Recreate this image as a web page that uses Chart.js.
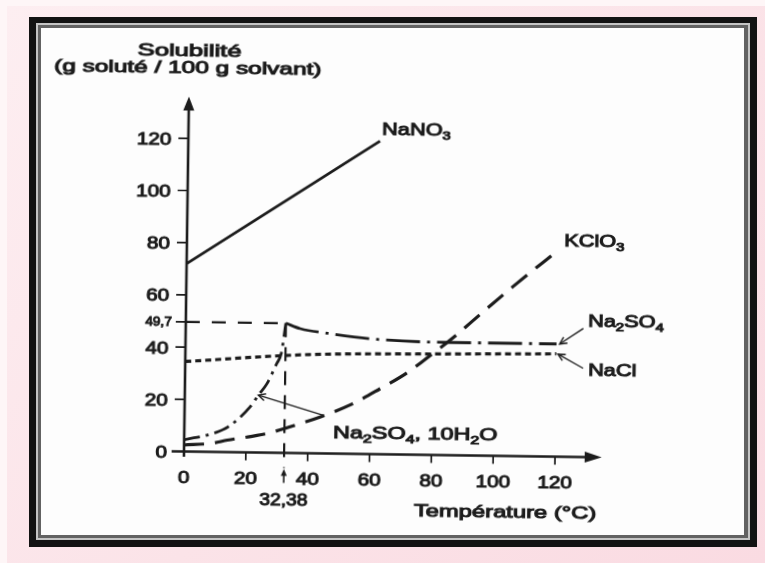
<!DOCTYPE html>
<html>
<head>
<meta charset="utf-8">
<script src="https://cdn.jsdelivr.net/npm/chart.js@4"></script>
<style>
  html, body { margin: 0; padding: 0; }
  body {
    width: 765px; height: 563px; position: relative; overflow: hidden;
    background: #fef6f7;
  }
  .pink { position: absolute; left: 7px; top: 6px; right: 0; bottom: 0;
    background: linear-gradient(135deg, #fdeef1 0%, #fbe3e8 55%, #fadbe2 100%); }
  .f1 { position: absolute; left: 29px; top: 17px; width: 728px; height: 530px; background: #121212; }
  .f2 { position: absolute; left: 36px; top: 23px; width: 714px; height: 517px; background: #c4c4c4; }
  .f3 { position: absolute; left: 38px; top: 25px; width: 710px; height: 513px; background: #626262; }
  .paper { position: absolute; left: 41px; top: 28px; width: 703px; height: 507px; background: #fdfdfd; }
  #chart { position: absolute; left: 0; top: 0; transform-origin: 184px 451.5px; transform: rotate(0.8deg); }
</style>
</head>
<body>
<div class="pink"></div>
<div class="f1"></div><div class="f2"></div><div class="f3"></div><div class="paper"></div>
<canvas id="chart" width="765" height="563"></canvas>
<script>
// ticks
const tempTicks = [0, 20, 40, 60, 80, 100, 120];
const solTicks = [0, 20, 40, 49.7, 60, 80, 100, 120];
const solTickLabels = ['0', '20', '40', '49,7', '60', '80', '100', '120'];

// solubility curves (temperature in °C, g solute / 100 g solvent)
const nano3Temp = [0, 62];
const nano3Sol = [72, 120];
const kclo3Temp = [0, 9, 14, 21, 27, 34, 44, 54, 63, 72, 78, 86.5, 96, 105.7, 120];
const kclo3Sol = [2.5, 3.3, 4.6, 6, 7.4, 10, 14, 19, 25, 31.5, 37, 45, 55, 65, 79];
const naclTemp = [0, 40, 80, 120];
const naclSol = [34.5, 37.8, 38.7, 39.4];
const na2so4Temp = [32.38, 37, 47, 62, 85, 120];
const na2so4Sol = [49.7, 47.7, 45.9, 44, 43.2, 43.2];
const decaTemp = [0, 9.4, 14.2, 21.2, 23.8, 26.5, 29.6, 31, 32.38];
const decaSol = [4.5, 7.1, 9.7, 17.5, 22, 26.4, 34.2, 38, 49.7];

// transition point Na2SO4,10H2O -> Na2SO4
const transTemp = 32.38;
const transSol = 49.7;

// label leader lines [temp, sol], first point touches the curve
const leaderNa2so4 = [[121, 43.2], [128.6, 49.3]];
const leaderNacl = [[120.5, 39.3], [128.7, 34]];
const leaderDeca = [[23.8, 22], [44.9, 14.6]];

const ink = '#1c1c1c';
const fontFam = '"Liberation Sans", Arial, sans-serif';

function pts(t, s) { return t.map((v, i) => ({ x: v, y: s[i] })); }
function pairPts(arr) { return arr.map(p => ({ x: p[0], y: p[1] })); }

function curve(data, dash, width, smooth) {
  return {
    data: data, borderColor: ink, borderWidth: width, borderDash: dash,
    pointRadius: 0, fill: false, clip: false,
    cubicInterpolationMode: smooth ? 'monotone' : 'default', tension: 0
  };
}

// text drawn with a horizontal stretch like the scanned figure
function sText(ctx, str, x, y, sx, align) {
  const w = ctx.measureText(str).width * sx;
  let x0 = x;
  if (align === 'center') x0 = x - w / 2;
  else if (align === 'right') x0 = x - w;
  ctx.save();
  ctx.translate(x0, y);
  ctx.scale(sx, 1);
  ctx.textAlign = 'left';
  ctx.fillText(str, 0, 0);
  ctx.strokeText(str, 0, 0);
  ctx.restore();
  return w;
}

// chemical formula: "_3" means subscript 3
function chem(ctx, str, x, y, size, sx) {
  let cx = x;
  let i = 0;
  while (i < str.length) {
    if (str[i] === '_') {
      ctx.font = (size * 0.68) + 'px ' + fontFam;
      cx += sText(ctx, str[i + 1], cx, y + 4, sx, 'left');
      i += 2;
    } else {
      let j = i;
      while (j < str.length && str[j] !== '_') j++;
      ctx.font = size + 'px ' + fontFam;
      cx += sText(ctx, str.slice(i, j), cx, y, sx, 'left');
      i = j;
    }
  }
}

function arrowHead(ctx, tx, ty, dx, dy, len, half) {
  const nx = -dy, ny = dx;
  ctx.beginPath();
  ctx.moveTo(tx, ty);
  ctx.lineTo(tx - dx * len + nx * half, ty - dy * len + ny * half);
  ctx.lineTo(tx - dx * len - nx * half, ty - dy * len - ny * half);
  ctx.closePath();
  ctx.fill();
}

function openHead(ctx, tx, ty, dx, dy, len, half) {
  const nx = -dy, ny = dx;
  ctx.beginPath();
  ctx.moveTo(tx - dx * len + nx * half, ty - dy * len + ny * half);
  ctx.lineTo(tx, ty);
  ctx.lineTo(tx - dx * len - nx * half, ty - dy * len - ny * half);
  ctx.stroke();
}

const labels = [
  { text: 'NaNO_3', x: 62.6, y: 122.3 },
  { text: 'KClO_3', x: 122, y: 80.8 },
  { text: 'Na_2SO_4', x: 130.1, y: 49.9 },
  { text: 'NaCl', x: 130.3, y: 31.1 },
  { text: 'Na_2SO_4, 10H_2O', x: 48.1, y: 6 }
];

const scanPlugin = {
  id: 'scanAxes',
  afterDatasetsDraw(chart) {
    const ctx = chart.ctx;
    const xs = chart.scales.x, ys = chart.scales.y;
    const X = v => xs.getPixelForValue(v);
    const Y = v => ys.getPixelForValue(v);
    ctx.save();
    ctx.strokeStyle = ink;
    ctx.fillStyle = ink;
    ctx.textBaseline = 'alphabetic';

    // axes
    ctx.lineWidth = 2.6;
    ctx.beginPath();
    ctx.moveTo(X(-4), Y(0));
    ctx.lineTo(X(135.1) - 12, Y(0));
    ctx.moveTo(X(0), Y(-2));
    ctx.lineTo(X(0), Y(136) + 10);
    ctx.stroke();
    arrowHead(ctx, X(135.1), Y(0), 1, 0, 17, 5.5);
    arrowHead(ctx, X(0), Y(136), 0, -1, 14, 5.5);

    // tick marks
    ctx.lineWidth = 1.7;
    ctx.beginPath();
    solTicks.forEach(v => {
      if (v === 0) return;
      ctx.moveTo(X(0) - 10, Y(v));
      ctx.lineTo(X(0), Y(v));
    });
    tempTicks.forEach(v => {
      if (v === 0) return;
      ctx.moveTo(X(v), Y(0));
      ctx.lineTo(X(v), Y(0) + 8);
    });
    ctx.stroke();

    // small arrow under the transition temperature
    ctx.lineWidth = 1.6;
    ctx.beginPath();
    ctx.moveTo(X(transTemp), Y(0) + 30);
    ctx.lineTo(X(transTemp), Y(0) + 22);
    ctx.stroke();
    arrowHead(ctx, X(transTemp), Y(0) + 16, 0, -1, 7, 3);

    // leader arrow tips
    ctx.lineWidth = 1.4;
    [leaderNa2so4, leaderNacl, leaderDeca].forEach(l => {
      const ax = X(l[0][0]), ay = Y(l[0][1]);
      const bx = X(l[1][0]), by = Y(l[1][1]);
      const d = Math.hypot(ax - bx, ay - by);
      openHead(ctx, ax, ay, (ax - bx) / d, (ay - by) / d, 7, 3.5);
    });

    // tick labels (stroked a little to look like the heavy scan)
    ctx.lineWidth = 1.0;
    solTicks.forEach((v, i) => {
      if (v === 49.7) {
        ctx.font = '13px ' + fontFam;
        sText(ctx, solTickLabels[i], X(0) - 14, Y(v) + 4.7, 1.05, 'right');
      } else {
        ctx.font = '17px ' + fontFam;
        sText(ctx, solTickLabels[i], X(0) - 17, Y(v) + 6.5, 1.22, 'right');
      }
    });
    ctx.font = '17px ' + fontFam;
    tempTicks.forEach(v => {
      sText(ctx, String(v), X(v), Y(0) + 31, 1.22, 'center');
    });
    ctx.font = '16px ' + fontFam;
    sText(ctx, '32,38', X(transTemp), Y(0) + 52, 1.2, 'center');

    // axis titles
    ctx.font = '16.5px ' + fontFam;
    sText(ctx, 'Solubilité', X(0), Y(151.5), 1.55, 'center');
    sText(ctx, '(g soluté / 100 g solvant)', X(-0.5), Y(144.9), 1.48, 'center');
    sText(ctx, 'Température (°C)', X(74.6), Y(-23.5), 1.44, 'left');

    // curve labels
    labels.forEach(l => chem(ctx, l.text, X(l.x), Y(l.y), 16.5, l.text.length > 10 ? 1.42 : 1.32));

    ctx.restore();
  }
};

new Chart(document.getElementById('chart'), {
  type: 'line',
  data: {
    datasets: [
      curve(pts(nano3Temp, nano3Sol), [], 2.8, false),
      curve(pts(kclo3Temp, kclo3Sol), [20, 11], 3.2, true),
      curve(pts(naclTemp, naclSol), [6, 4], 3.2, true),
      curve(pts(na2so4Temp, na2so4Sol), [34, 7, 3, 7], 2.8, true),
      curve(pts(decaTemp, decaSol), [16, 6, 3, 6], 2.8, true),
      curve([{ x: 0, y: transSol }, { x: transTemp, y: transSol }], [14, 12], 2.2, false),
      curve([{ x: transTemp, y: transSol }, { x: transTemp, y: -5.7 }], [14, 10], 2.2, false),
      curve(pairPts(leaderNa2so4), [], 1.4, false),
      curve(pairPts(leaderNacl), [], 1.4, false),
      curve(pairPts(leaderDeca), [], 1.4, false)
    ]
  },
  options: {
    responsive: false,
    devicePixelRatio: 1,
    animation: false,
    parsing: true,
    layout: { padding: { left: 168.54, right: 148.12, top: 86.1, bottom: 90.62 } },
    plugins: { legend: { display: false }, tooltip: { enabled: false } },
    scales: {
      x: { type: 'linear', min: -5, max: 140, display: false },
      y: { type: 'linear', min: -8, max: 140, display: false }
    }
  },
  plugins: [scanPlugin]
});
</script>
</body>
</html>
